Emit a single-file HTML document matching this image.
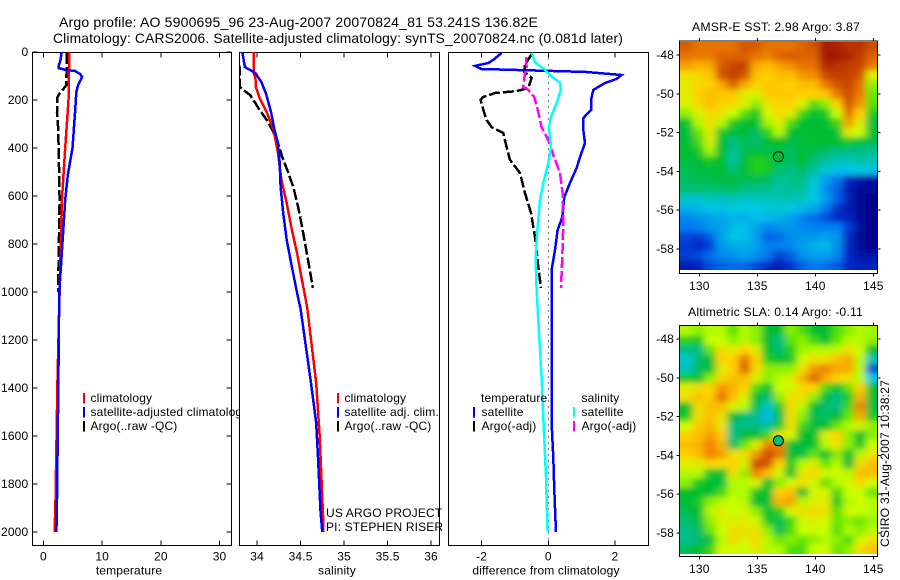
<!DOCTYPE html>
<html lang="en">
<head>
<meta charset="utf-8">
<title>Argo profile</title>
<style>
html,body{margin:0;padding:0;background:#fff}
svg{display:block}
text{font-family:"Liberation Sans",Arial,sans-serif;font-size:12px;letter-spacing:.15px;fill:#000}
</style>
</head>
<body>
<svg id="chart" xmlns="http://www.w3.org/2000/svg" width="900" height="580" viewBox="0 0 900 580">
<defs>
<filter id="smooth" filterUnits="userSpaceOnUse" x="640" y="0" width="260" height="580"><feGaussianBlur stdDeviation="3.8 3"/></filter>
<clipPath id="clip-temp"><rect x="32" y="52" width="199" height="493"/></clipPath>
<clipPath id="clip-sal"><rect x="240" y="52" width="199" height="493"/></clipPath>
<clipPath id="clip-diff"><rect x="448" y="52" width="200" height="493"/></clipPath>
<clipPath id="clip-sst"><rect x="680" y="42" width="197" height="228"/></clipPath>
<clipPath id="clip-sla"><rect x="680" y="326" width="197" height="228"/></clipPath>
</defs>
<rect width="900" height="580" fill="#fff"/>
<text x="59" y="27" font-size="14" style="font-size:14px" textLength="479" lengthAdjust="spacingAndGlyphs">Argo profile: AO 5900695_96 23-Aug-2007 20070824_81 53.241S 136.82E</text>
<text x="53" y="43" style="font-size:14px" textLength="570" lengthAdjust="spacingAndGlyphs">Climatology: CARS2006. Satellite-adjusted climatology: synTS_20070824.nc (0.081d later)</text>
<text x="692" y="31" textLength="168" lengthAdjust="spacingAndGlyphs">AMSR-E SST: 2.98 Argo: 3.87</text>
<text x="688" y="316" textLength="175" lengthAdjust="spacingAndGlyphs">Altimetric SLA: 0.14 Argo: -0.11</text>
<text transform="translate(889,547) rotate(-90)" textLength="167" lengthAdjust="spacingAndGlyphs">CSIRO 31-Aug-2007 10:38:27</text>
<g id="layer"></g>
</svg>
<script>
// ---------- profile data (depth in m, values in data units) ----------
const depthTicks = [0,200,400,600,800,1000,1200,1400,1600,1800,2000];
const tempTicks = [0,10,20,30];
const salTicks = [34,34.5,35,35.5,36];
const salTickLabels = ["34","34.5","35","35.5","36"];
const diffTicks = [-2,0,2];

const tempClimDepth = [0,96,200,400,617,1000,1367,1867,2000];
const tempClimValues = [4.4,4.33,4.27,3.7,3.15,2.75,2.4,2.05,1.9];
const tempSatDepth = [0,33,58,67,75,79,92,104,138,167,242,400,513,617,1000,1200,1367,1867,2000];
const tempSatValues = [3.1,2.9,2.6,2.6,3.9,5.4,6.25,6.6,5.9,5.6,5.4,4.95,4.15,3.7,2.7,2.6,2.55,2.3,2.2];
const tempArgoDepth = [4,138,158,171,188,254,313,408,617,1000];
const tempArgoValues = [4.0,3.9,3.3,2.8,2.4,2.3,2.5,2.6,2.75,2.5];

const salClimDepth = [0,88,104,146,192,250,325,421,533,629,742,838,938,1033,1075,1379,1604,1950,2000];
const salClimValues = [33.96,33.96,33.98,33.985,34.03,34.11,34.19,34.24,34.28,34.34,34.40,34.46,34.51,34.56,34.58,34.68,34.72,34.76,34.76];
const salSatDepth = [0,63,75,88,125,171,250,325,379,463,563,671,783,896,1004,1071,1379,1546,1688,1921,2000];
const salSatValues = [33.83,33.86,33.92,33.98,34.05,34.10,34.16,34.20,34.24,34.26,34.27,34.30,34.34,34.40,34.46,34.50,34.62,34.68,34.70,34.73,34.75];
const salArgoDepth = [4,63,146,163,179,213,242,283,321,367,438,504,567,658,754,854,938,983];
const salArgoValues = [33.7,33.8,33.8,33.86,33.92,33.98,34.03,34.11,34.17,34.23,34.29,34.36,34.42,34.48,34.53,34.58,34.62,34.64];

const diffTempSatDepth = [4,33,46,58,71,83,96,112,129,158,200,242,275,325,379,438,483,546,604,688,742,825,908,1546,1688,1825,1963,2000];
const diffTempSatValues = [-1.4,-1.65,-1.8,-2.2,-2.0,1.1,2.2,2.05,1.7,1.35,1.28,1.28,1.05,1.05,1.1,0.95,0.85,0.65,0.48,0.42,0.28,0.2,0.1,0.1,0.15,0.18,0.22,0.23];
const diffTempArgoDepth = [4,54,83,108,150,163,171,188,200,250,283,313,338,396,450,504,588,671,771,896,983];
const diffTempArgoValues = [-0.48,-0.7,-0.72,-0.5,-0.6,-0.95,-1.6,-1.96,-2.03,-1.93,-1.85,-1.7,-1.35,-1.25,-1.15,-0.85,-0.7,-0.52,-0.4,-0.3,-0.22];
const diffSalSatDepth = [4,42,75,96,129,158,213,271,313,396,463,546,617,729,854,992,1171,1354,1588,1771,2000];
const diffSalSatValues = [-0.5,-0.4,-0.1,0.05,0.35,0.38,0.25,0.08,0.02,0.08,0,-0.15,-0.25,-0.32,-0.38,-0.35,-0.28,-0.2,-0.13,-0.07,-0.02];
const diffSalArgoDepth = [21,63,88,146,158,188,250,313,367,429,504,588,713,854,983];
const diffSalArgoValues = [-0.67,-0.65,-0.7,-0.75,-0.6,-0.42,-0.3,-0.2,0,0.15,0.35,0.43,0.45,0.42,0.38];

// ---------- map data (colour level 0-10 on 1x0.5 degree cells) ----------
const mapLonTicks = [130,135,140,145];
const mapLatTicks = [-48,-50,-52,-54,-56,-58];
const profileLon = 136.82;
const profileLat = -53.241;
const sstMarkerLevel = 5.0;
const slaMarkerLevel = 4.55;
const sstRows = [
[8.3,8.0,8.0,8.0,8.0,8.4,8.3,8.0,8.0,8.0,8.2,8.4,9.5,9.3,9.0,9.0,8.5],
[8.0,7.9,7.9,8.2,8.2,8.2,8.0,7.8,8.2,8.3,8.2,8.2,9.6,9.6,9.3,8.8,8.2],
[7.5,7.3,7.4,8.3,8.6,8.7,7.4,7.2,7.5,7.7,8.0,8.0,9.2,9.0,8.8,8.6,7.9],
[6.8,6.9,7.1,8.4,8.7,8.4,7.2,7.0,7.2,7.2,7.6,7.7,8.5,8.8,8.7,8.4,6.5],
[6.6,6.9,7.0,7.4,8.2,7.4,7.0,7.1,7.1,7.0,7.2,7.2,7.9,8.4,8.6,8.0,6.0],
[6.6,7.0,7.2,7.1,7.1,6.6,6.5,7.1,7.1,7.1,7.0,7.0,7.1,7.9,8.5,7.9,5.8],
[6.5,6.9,7.2,7.0,6.9,6.5,6.0,6.7,7.0,7.0,6.5,5.6,6.0,7.0,8.4,7.6,5.7],
[6.0,6.5,6.9,6.7,6.3,5.7,5.2,6.4,6.9,6.6,5.5,5.0,5.2,6.3,8.0,7.0,5.2],
[5.0,6.2,6.8,6.2,5.3,5.0,5.0,6.1,6.6,5.6,5.0,5.0,5.0,5.5,7.5,6.6,4.9],
[4.9,5.8,6.6,5.2,4.9,4.9,4.7,5.4,6.2,5.0,5.0,5.0,5.0,5.0,6.6,6.3,5.0],
[4.9,5.5,6.5,5.0,4.5,4.8,4.6,5.0,5.0,4.9,4.9,5.0,5.0,5.0,5.2,4.9,4.8],
[5.0,5.2,6.1,5.0,4.3,4.8,5.0,4.8,4.9,4.7,5.0,4.8,4.7,4.5,4.5,4.5,4.4],
[4.9,5.0,5.2,5.0,4.2,5.0,5.3,5.2,4.8,4.7,5.0,4.6,4.2,4.0,3.9,4.2,4.0],
[4.8,4.9,4.9,5.0,4.6,5.0,5.3,5.2,4.6,4.5,4.7,4.2,3.7,3.4,3.4,3.5,3.4],
[4.7,4.8,4.8,4.9,4.9,4.8,4.8,4.7,4.2,4.4,4.5,3.7,3.0,2.5,1.5,0.8,0.6],
[4.6,4.6,4.6,4.6,4.8,4.5,4.4,4.4,4.2,4.3,4.3,3.6,2.8,2.2,1.0,0.5,0.3],
[3.8,3.8,3.9,3.9,3.9,3.8,3.9,3.9,4.0,4.0,3.9,3.5,3.0,2.2,1.2,0.3,0.2],
[3.2,3.3,3.5,3.4,3.6,3.5,3.5,3.6,3.7,3.5,3.3,3.1,2.5,1.6,1.0,0.3,0.2],
[2.7,2.8,3.0,3.1,3.2,3.2,3.4,3.3,3.2,3.0,2.6,2.4,2.0,1.5,1.2,0.4,0.2],
[2.5,2.6,2.9,3.0,3.3,3.4,3.0,2.7,2.8,2.9,2.7,2.6,2.6,2.6,1.8,0.6,0.2],
[1.9,1.7,2.2,3.0,3.5,3.4,3.0,2.2,2.4,2.8,2.9,2.9,3.0,2.9,1.5,0.3,0.2],
[1.7,1.5,1.8,2.9,3.1,3.2,3.0,2.6,2.6,2.7,3.0,3.2,3.3,2.8,1.4,0.4,0.2],
[1.8,1.9,2.4,2.7,2.8,3.0,2.8,2.5,1.7,2.2,2.8,3.0,3.0,2.7,1.5,0.8,0.8],
[1.0,1.3,1.9,2.2,2.3,2.3,1.9,1.4,1.2,1.6,2.2,2.5,2.4,2.1,1.4,1.2,1.3]
];
const slaRows = [
[6.2,6.0,6.2,6.2,5.7,6.2,6.0,5.0,5.0,6.0,5.6,5.0,5.0,5.6,6.0,6.2,6.1],
[5.4,5.2,6.3,6.3,6.0,6.2,6.0,5.0,4.5,5.7,6.0,5.5,5.0,5.8,6.2,6.2,6.0],
[4.5,4.5,5.8,6.8,6.6,7.0,6.5,5.0,4.6,5.3,6.1,6.2,6.2,6.2,6.8,6.3,5.0],
[3.7,4.6,5.0,7.0,7.0,8.0,7.0,5.3,5.0,5.2,6.3,6.8,6.8,7.2,7.4,6.2,4.0],
[3.9,4.7,5.0,6.6,7.0,8.2,6.9,6.0,6.0,6.0,6.8,7.6,7.8,7.4,7.4,6.2,2.0],
[5.2,5.0,6.0,6.9,7.2,7.2,6.5,6.0,6.2,6.5,7.3,8.2,7.4,7.0,6.8,6.2,3.5],
[6.6,6.8,7.0,7.6,7.3,7.0,5.6,5.0,6.3,6.4,6.9,7.0,5.6,5.0,5.8,7.0,5.0],
[6.8,7.2,7.0,8.0,7.2,6.5,5.0,4.6,6.0,6.8,6.8,6.0,4.9,4.5,5.2,7.3,5.0],
[5.0,6.8,7.2,7.2,6.5,6.2,4.8,3.8,5.2,6.9,6.2,5.0,4.6,4.5,5.5,7.8,4.9],
[5.2,6.8,7.2,6.8,5.0,4.5,4.3,3.3,4.8,6.8,6.0,4.8,4.7,5.0,5.8,7.4,5.2],
[6.3,7.1,7.3,6.7,4.5,4.5,4.5,4.2,5.2,6.8,5.5,4.9,5.0,5.8,6.2,6.5,6.0],
[7.0,7.2,7.5,7.1,4.4,5.0,5.0,5.5,6.8,6.4,5.0,5.0,6.5,7.0,6.0,5.0,6.0],
[7.2,7.3,7.8,7.3,4.7,5.8,6.5,7.8,7.9,5.0,4.9,5.0,6.2,6.8,6.0,5.2,6.3],
[7.0,7.2,7.8,7.5,6.8,6.8,7.6,8.5,8.0,5.0,4.9,5.8,5.0,6.0,5.0,6.2,6.8],
[6.6,6.6,7.0,6.8,7.0,6.5,8.6,8.4,7.0,5.2,6.2,6.6,5.8,6.2,5.0,6.8,7.2],
[6.2,6.2,5.2,5.0,6.8,6.0,7.8,7.2,6.4,5.0,6.6,7.0,6.4,6.4,6.2,7.2,7.2],
[6.0,5.2,5.0,4.9,6.2,6.2,6.5,5.0,6.0,6.4,6.8,6.4,5.7,6.2,6.4,6.9,6.4],
[5.0,5.0,5.0,5.5,6.2,6.2,5.2,5.0,7.0,7.2,5.0,6.4,6.5,5.5,6.3,6.3,5.8],
[5.0,5.2,6.0,6.2,6.3,6.2,5.0,5.0,7.3,7.5,6.2,6.6,6.6,5.2,6.2,6.4,6.2],
[4.8,5.0,6.2,6.6,6.3,6.4,6.0,5.0,5.4,6.4,6.8,6.8,6.8,5.7,6.4,6.3,6.2],
[4.6,4.9,6.0,6.6,6.5,6.6,6.4,5.2,4.8,5.5,6.4,6.6,6.4,5.8,6.0,5.8,6.1],
[4.5,4.7,5.8,6.3,6.8,6.8,6.8,6.0,4.8,5.6,6.3,6.4,6.3,5.6,6.2,6.0,6.2],
[4.4,4.6,5.0,6.2,6.9,6.5,6.9,6.2,5.8,6.0,5.8,6.0,6.2,6.0,5.6,6.4,6.8],
[4.8,5.0,5.4,6.4,6.4,6.3,6.6,6.2,6.2,5.6,5.6,6.3,6.4,5.8,6.0,6.8,7.2]
];
const colourLevels = [0,1.5,2.5,3.5,4.5,5,5.8,6.3,7,7.8,8.6,10];
const colourReds = [0,0,0,0,0,0,100,200,255,240,200,150];
const colourGreens = [0,40,120,200,190,190,230,255,210,130,70,0];
const colourBlues = [130,200,240,230,130,50,0,0,0,0,0,0];

// ---------- helpers ----------
const NS = 'http://www.w3.org/2000/svg';
const layer = document.getElementById('layer');
function mk(tag, attrs, parent) {
  const e = document.createElementNS(NS, tag);
  for (const k in attrs) e.setAttribute(k, attrs[k]);
  (parent || layer).appendChild(e);
  return e;
}
function scale(d0, d1, r0, r1) { return v => r0 + (v - d0) * (r1 - r0) / (d1 - d0); }
function colour(v) {
  const L = colourLevels;
  const c = Math.max(L[0], Math.min(L[L.length - 1], v));
  let i = 0;
  while (i < L.length - 2 && c > L[i + 1]) i++;
  const f = (c - L[i]) / (L[i + 1] - L[i]);
  const mix = a => Math.round(a[i] + (a[i + 1] - a[i]) * f);
  return 'rgb(' + mix(colourReds) + ',' + mix(colourGreens) + ',' + mix(colourBlues) + ')';
}
function label(str, x, y, anchor, parent) {
  const t = mk('text', {x: x, y: y, 'text-anchor': anchor || 'start'}, parent);
  t.textContent = str;
  return t;
}

const plotTop = 52.3, plotBottom = 545.3;
const depthY = scale(0, 2000, 52, 532);

function drawPanel(name, left, right, xDomain, ticks, tickLabels, xTitle, titleX, showDepth) {
  const g = mk('g', {});
  
  
  const bg = mk('rect', {x: left, y: plotTop, width: right - left, height: plotBottom - plotTop, fill: '#fff'}, g);
  
  
  const x = scale(xDomain[0], xDomain[1], left, right);
  g.xScale = x;
  const frame = mk('rect', {x: left, y: plotTop, width: right - left, height: plotBottom - plotTop, fill: 'none', stroke: '#000', 'stroke-width': 1, 'shape-rendering': 'crispEdges'}, g);
  
  
  ticks.forEach((tv, i) => {
    const px = x(tv);
    const tk = mk('path', {d: 'M' + px + ' ' + plotBottom + 'V' + (plotBottom - 5) + 'M' + px + ' ' + plotTop + 'V' + (plotTop + 5), stroke: '#000', fill: 'none', 'shape-rendering': 'crispEdges'}, g);
    
    
    const tl = label(tickLabels[i], px, 560.5, 'middle', g);
    
    
  });
  if (showDepth) {
    depthTicks.forEach(dv => {
      const py = depthY(dv);
      const tk = mk('path', {d: 'M' + left + ' ' + py + 'H' + (left + 5) + 'M' + right + ' ' + py + 'H' + (right - 5), stroke: '#000', fill: 'none', 'shape-rendering': 'crispEdges'}, g);
      
      
      const tl = label(String(dv), left - 4, py + 4, 'end', g);
      
      
    });
  }
  const xt = label(xTitle, titleX, 574.5, 'middle', g);
  
  
  return g;
}

function drawLine(panel, clip, name, depths, values, color, dashed, width) {
  const x = panel.xScale;
  const pts = depths.map((d, i) => x(values[i]).toFixed(1) + ',' + depthY(d).toFixed(1)).join(' ');
  const attrs = {points: pts, fill: 'none', stroke: color, 'stroke-width': width || 2.5, 'shape-rendering': 'crispEdges', 'clip-path': 'url(#' + clip + ')'};
  if (dashed) attrs['stroke-dasharray'] = dashed;
  const l = mk('polyline', attrs, panel);
  
  
}

function legendBar(panel, name, x, y, color) {
  const r = mk('rect', {x: x, y: y, width: 2, height: 10.5, fill: color, 'shape-rendering': 'crispEdges'}, panel);
  
  
}
function legendText(panel, name, str, x, y) {
  const t = label(str, x, y, 'start', panel);
  
  
}

// ---------- temperature panel ----------
const tempPanel = drawPanel('temperature', 32.3, 231.3, [-1.9, 32], tempTicks, tempTicks.map(String), 'temperature', 129, true);
drawLine(tempPanel, 'clip-temp', 'temperature-argo-line', tempArgoDepth, tempArgoValues, '#000', '11 3');
drawLine(tempPanel, 'clip-temp', 'temperature-climatology-line', tempClimDepth, tempClimValues, '#f00');
drawLine(tempPanel, 'clip-temp', 'temperature-satellite-line', tempSatDepth, tempSatValues, '#00f');
legendBar(tempPanel, 'legend-climatology-swatch', 83, 393, '#f00');
legendBar(tempPanel, 'legend-satellite-swatch', 83, 407, '#00f');
legendBar(tempPanel, 'legend-argo-swatch', 83, 421, '#000');
legendText(tempPanel, 'legend-climatology-label', 'climatology', 90.5, 402);
legendText(tempPanel, 'legend-satellite-label', 'satellite-adjusted climatology', 90.5, 416);
legendText(tempPanel, 'legend-argo-label', 'Argo(..raw -QC)', 90.5, 430);

// ---------- salinity panel ----------
const salPanel = drawPanel('salinity', 239.7, 439.3, [33.8, 36.095], salTicks, salTickLabels, 'salinity', 337, false);
drawLine(salPanel, 'clip-sal', 'salinity-argo-line', salArgoDepth, salArgoValues, '#000', '11 3');
drawLine(salPanel, 'clip-sal', 'salinity-climatology-line', salClimDepth, salClimValues, '#f00');
drawLine(salPanel, 'clip-sal', 'salinity-satellite-line', salSatDepth, salSatValues, '#00f');
legendBar(salPanel, 'legend-climatology-swatch', 337, 393, '#f00');
legendBar(salPanel, 'legend-satellite-swatch', 337, 407, '#00f');
legendBar(salPanel, 'legend-argo-swatch', 337, 421, '#000');
legendText(salPanel, 'legend-climatology-label', 'climatology', 344.5, 402);
legendText(salPanel, 'legend-satellite-label', 'satellite adj. clim.', 344.5, 416);
legendText(salPanel, 'legend-argo-label', 'Argo(..raw -QC)', 344.5, 430);
legendText(salPanel, 'project-label', 'US ARGO PROJECT', 326, 517);
legendText(salPanel, 'principal-investigator-label', 'PI: STEPHEN RISER', 326, 531);

// ---------- difference panel ----------
const diffPanel = drawPanel('difference', 448.3, 648.3, [-3, 3], diffTicks, diffTicks.map(String), 'difference from climatology', 546, false);
const zeroX = diffPanel.xScale(0);
const zeroLine = mk('line', {x1: zeroX, x2: zeroX, y1: plotTop, y2: plotBottom, stroke: '#000', 'stroke-dasharray': '1 5', 'shape-rendering': 'crispEdges'}, diffPanel);


drawLine(diffPanel, 'clip-diff', 'difference-temperature-satellite-line', diffTempSatDepth, diffTempSatValues, '#00f');
drawLine(diffPanel, 'clip-diff', 'difference-temperature-argo-line', diffTempArgoDepth, diffTempArgoValues, '#000', '11 3');
drawLine(diffPanel, 'clip-diff', 'difference-salinity-argo-line', diffSalArgoDepth, diffSalArgoValues, '#f0f', '11 3');
drawLine(diffPanel, 'clip-diff', 'difference-salinity-satellite-line', diffSalSatDepth, diffSalSatValues, '#0ff');
legendText(diffPanel, 'legend-temperature-heading', 'temperature', 481, 402);
legendText(diffPanel, 'legend-salinity-heading', 'salinity', 581.5, 402);
legendBar(diffPanel, 'legend-temperature-satellite-swatch', 473, 407, '#00f');
legendBar(diffPanel, 'legend-temperature-argo-swatch', 473, 421, '#000');
legendBar(diffPanel, 'legend-salinity-satellite-swatch', 573, 407, '#0ff');
legendBar(diffPanel, 'legend-salinity-argo-swatch', 573, 421, '#f0f');
legendText(diffPanel, 'legend-temperature-satellite-label', 'satellite', 481.5, 416);
legendText(diffPanel, 'legend-temperature-argo-label', 'Argo(-adj)', 481.5, 430);
legendText(diffPanel, 'legend-salinity-satellite-label', 'satellite', 581.5, 416);
legendText(diffPanel, 'legend-salinity-argo-label', 'Argo(-adj)', 581.5, 430);

// ---------- maps ----------
function drawMap(name, rows, markerLevel, frameTop, frameBottom, imgTop, imgBottom, tickLat48Y, clip, lonLabelY) {
  const g = mk('g', {});
  
  
  const frameLeft = 679.3, frameRight = 877.3;
  const lonX = scale(130, 145, 699.3, 873.3);
  const latY = scale(-48, -58, tickLat48Y, tickLat48Y + 194);
  const outer = mk('g', {'clip-path': 'url(#' + clip + ')'}, g);
  const cells = mk('g', {filter: 'url(#smooth)'}, outer);
  
  
  const nR = rows.length, nC = rows[0].length;
  const cw = (877.3 - 681) / nC, ch = (imgBottom - imgTop) / nR;
  rows.forEach((row, r) => row.forEach((v, c) => {
    const x0 = 681 + c * cw, y0 = imgTop + r * ch;
    const padL = c === 0 ? 16 : 0, padR = c === nC - 1 ? 16 : 0;
    const padT = r === 0 ? 16 : 0, padB = r === nR - 1 ? 16 : 0;
    const cell = mk('rect', {x: x0 - padL, y: y0 - padT, width: cw + padL + padR + 0.5, height: ch + padT + padB + 0.5, fill: colour(v)}, cells);
    
    
  }));
  const frame = mk('rect', {x: frameLeft, y: frameTop, width: frameRight - frameLeft, height: frameBottom - frameTop, fill: 'none', stroke: '#000', 'shape-rendering': 'crispEdges'}, g);
  
  
  mapLonTicks.forEach(lon => {
    const px = lonX(lon);
    const tk = mk('path', {d: 'M' + px + ' ' + frameBottom + 'v3M' + px + ' ' + frameTop + 'v-3', stroke: '#000', fill: 'none', 'shape-rendering': 'crispEdges'}, g);
    
    
    const tl = label(String(lon), px, lonLabelY, 'middle', g);
    
    
  });
  mapLatTicks.forEach(lat => {
    const py = latY(lat);
    const tk = mk('path', {d: 'M' + frameLeft + ' ' + py + 'h-3M' + frameRight + ' ' + py + 'h3', stroke: '#000', fill: 'none', 'shape-rendering': 'crispEdges'}, g);
    
    
    const tl = label(String(lat), 674, py + 4, 'end', g);
    
    
  });
  const marker = mk('circle', {cx: lonX(profileLon), cy: latY(profileLat), r: 5, fill: colour(markerLevel), stroke: '#000', 'stroke-width': 1}, g);
  
  
}
drawMap('sst', sstRows, sstMarkerLevel, 41, 273.3, 42, 270, 55, 'clip-sst', 290);
drawMap('sla', slaRows, slaMarkerLevel, 325.7, 556.7, 326, 554, 339, 'clip-sla', 573);
</script>
</body>
</html>
